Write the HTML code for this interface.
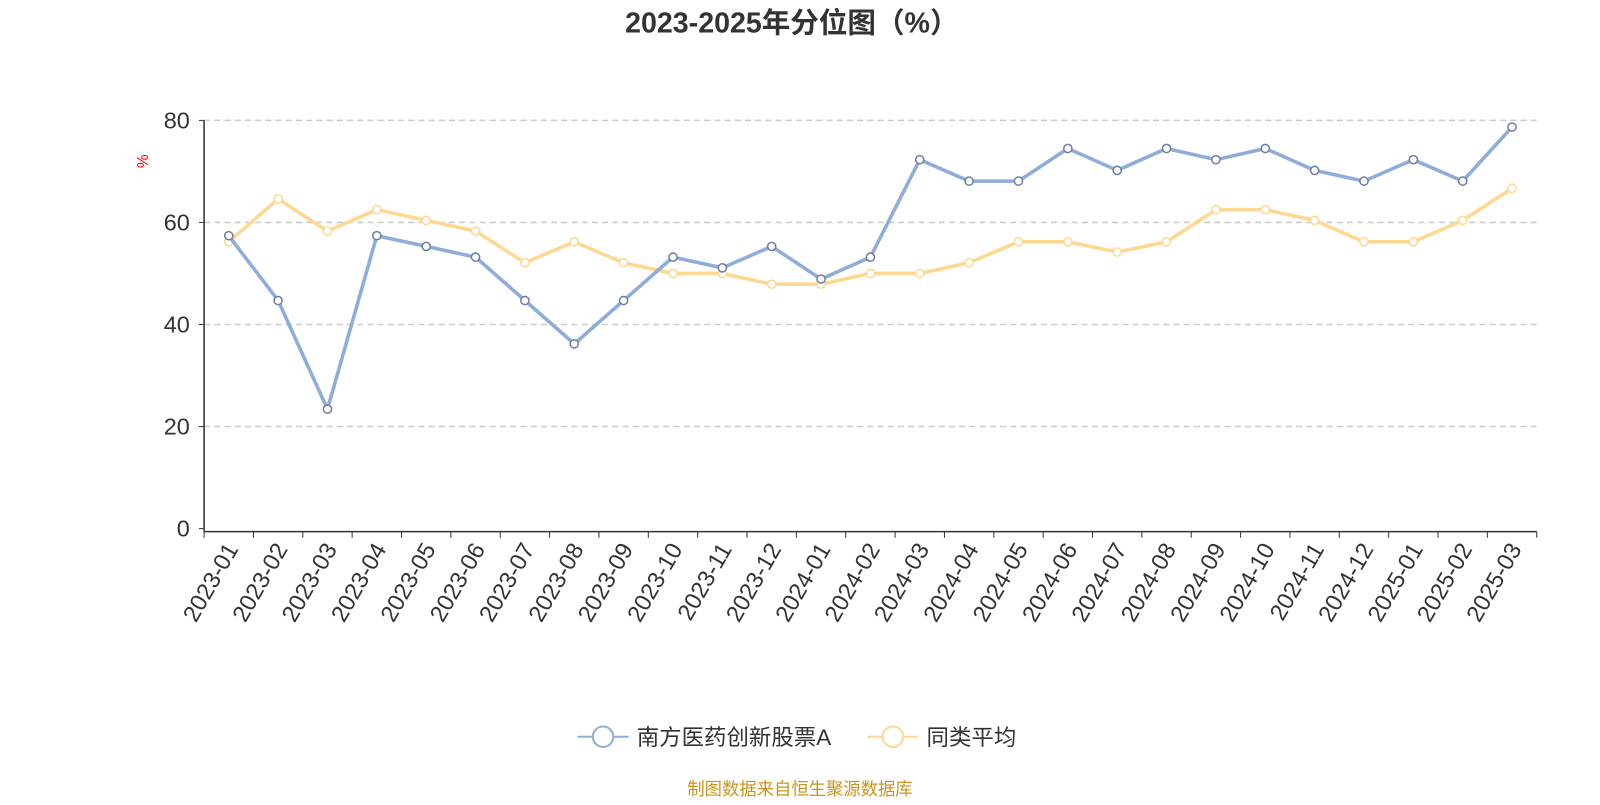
<!DOCTYPE html>
<html><head><meta charset="utf-8">
<style>
body{margin:0;background:#fff;width:1600px;height:800px;overflow:hidden;font-family:"Liberation Sans","Noto Sans CJK SC",sans-serif;}
</style></head>
<body>
<svg id="chart" width="1600" height="800" viewBox="0 0 1568 784" xmlns="http://www.w3.org/2000/svg" font-family="Liberation Sans, Noto Sans CJK SC, sans-serif">
<text x="776" y="32" text-anchor="middle" font-size="28" font-weight="bold" fill="#333">2023-2025年分位图（%）</text>
<text x="0" y="0" transform="translate(145,158) rotate(-90)" text-anchor="middle" font-size="15" fill="#f00">%</text>
<g id="grid"></g><g id="axes"></g><g id="series"></g>
<g>
<g>
<line x1="566" y1="722" x2="616" y2="722" stroke="#8eaddb" stroke-width="2"/>
<circle cx="591" cy="722" r="10" fill="#fff" stroke="#8eaddb" stroke-width="2"/>
<text x="624" y="730" font-size="22" fill="#333">南方医药创新股票A</text></g>
<g>
<line x1="850" y1="722" x2="900" y2="722" stroke="#fdd891" stroke-width="2"/>
<circle cx="875" cy="722" r="10" fill="#fff" stroke="#fdd891" stroke-width="2"/>
<text x="908" y="730" font-size="22" fill="#333">同类平均</text></g>
</g>
<text x="784" y="779" text-anchor="middle" font-size="17" fill="#c8961e">制图数据来自恒生聚源数据库</text>
</svg>
<script>
const categories=["2023-01","2023-02","2023-03","2023-04","2023-05","2023-06","2023-07","2023-08","2023-09","2023-10","2023-11","2023-12","2024-01","2024-02","2024-03","2024-04","2024-05","2024-06","2024-07","2024-08","2024-09","2024-10","2024-11","2024-12","2025-01","2025-02","2025-03"];
const fundValues=[57.4,44.7,23.4,57.4,55.3,53.2,44.7,36.2,44.7,53.2,51.1,55.3,48.9,53.2,72.3,68.1,68.1,74.5,70.2,74.5,72.3,74.5,70.2,68.1,72.3,68.1,78.7];
const avgValues=[56.2,64.6,58.3,62.5,60.4,58.3,52.1,56.2,52.1,50.0,50.0,47.9,47.9,50.0,50.0,52.1,56.2,56.2,54.2,56.2,62.5,62.5,60.4,56.2,56.2,60.4,66.7];
const yTicks=[0,20,40,60,80];
const NS="http://www.w3.org/2000/svg";
const X0=200,X1=1506,Y0=518,Y1=118,YMAX=80;
const band=(X1-X0)/categories.length;
const xs=i=>X0+band*(i+0.5);
const ys=v=>Y0-(v/YMAX)*(Y0-Y1);
function mk(tag,attrs,parent){const e=document.createElementNS(NS,tag);for(const k in attrs)e.setAttribute(k,attrs[k]);parent.appendChild(e);return e;}
const grid=document.getElementById('grid'),axes=document.getElementById('axes'),series=document.getElementById('series');
yTicks.forEach(t=>{
  if(t>0){const g=mk('line',{x1:X0,x2:X1,y1:ys(t),y2:ys(t),stroke:'#ccc','stroke-dasharray':'6,4','stroke-width':1.5},grid);
  
  }
  const tk=mk('line',{x1:X0-5,x2:X0,y1:ys(t),y2:ys(t),stroke:'#333'},axes);
  
  
  const lb=mk('text',{x:X0-14,y:ys(t)+8,'text-anchor':'end','font-size':23,fill:'#333'},axes);
  lb.textContent=t;
  
  
});
const ya=mk('line',{x1:X0,x2:X0,y1:Y1,y2:Y0+3,stroke:'#333','stroke-width':1.5},axes);


const xa=mk('line',{x1:X0,x2:X1,y1:Y0+3,y2:Y0+3,stroke:'#333','stroke-width':1.5},axes);


for(let i=0;i<=categories.length;i++){
  const tk=mk('line',{x1:X0+band*i,x2:X0+band*i,y1:Y0+3,y2:Y0+9,stroke:'#333'},axes);
  
  
}
categories.forEach((c,i)=>{
  const x=xs(i)+10,y=Y0+20;
  const lb=mk('text',{x:x,y:y,'text-anchor':'end','font-size':23,fill:'#333',transform:`rotate(-60 ${x} ${y})`},axes);
  lb.textContent=c;
  
  
});
function draw(vals,color,name){
  const p=mk('polyline',{points:vals.map((v,i)=>xs(i)+','+ys(v)).join(' '),fill:'none',stroke:color,'stroke-width':3.5,'stroke-linejoin':'round'},series);
  
  
  vals.forEach((v,i)=>{
    const c=mk('circle',{cx:xs(i),cy:ys(v),r:4,fill:'#fff',stroke:name==='fund'?'#6e7fa3':color,'stroke-width':1.5},series);
    
    
  });
}
draw(avgValues,'#fdd891','average');
draw(fundValues,'#8eaddb','fund');
</script>
</body></html>
